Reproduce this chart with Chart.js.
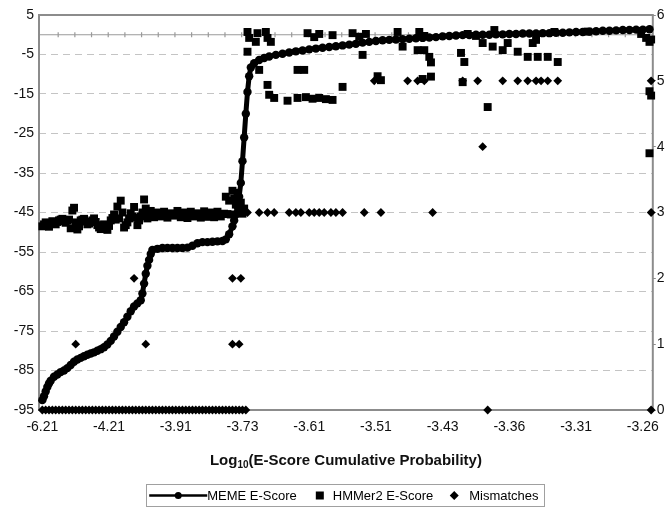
<!DOCTYPE html>
<html>
<head>
<meta charset="utf-8">
<script src="https://cdn.jsdelivr.net/npm/chart.js@4.4.1/dist/chart.umd.min.js"></script>
<style>
  html, body { margin: 0; padding: 0; background: #fff; }
  #wrap { width: 668px; height: 508px; }
</style>
</head>
<body>
<div id="wrap"><canvas id="myChart" width="668" height="508"></canvas></div>
<script>
// x = rank of the sequence when sorted by E-score cumulative probability
var tickRanks = [0, 40, 80, 120, 160, 200, 240, 280, 320, 360];
var tickLabels = ['-6.21', '-4.21', '-3.91', '-3.73', '-3.61', '-3.51', '-3.43', '-3.36', '-3.31', '-3.26'];
var scoreTicks = [5, -5, -15, -25, -35, -45, -55, -65, -75, -85, -95];
var mismatchTicks = [0, 1, 2, 3, 4, 5, 6];

var memeRank = [0, 1, 2, 3, 4, 5, 7, 9, 11, 13, 15, 17, 19, 21, 23, 25, 27, 29, 31, 33, 35, 37, 39, 41, 43, 45, 47, 49, 51, 53, 55, 57, 59, 60, 61, 62, 63, 64, 65, 66, 69, 72, 75, 78, 81, 84, 87, 90, 93, 96, 99, 102, 105, 108, 110, 112, 114, 115, 116, 117, 118, 119, 120, 121, 122, 123, 124, 125, 127, 130, 133, 136, 140, 144, 148, 152, 156, 160, 164, 168, 172, 176, 180, 184, 188, 192, 196, 200, 204, 208, 212, 216, 220, 224, 228, 232, 236, 240, 244, 248, 252, 256, 260, 264, 268, 272, 276, 280, 284, 288, 292, 296, 300, 304, 308, 312, 316, 320, 324, 328, 332, 336, 340, 344, 348, 352, 356, 360, 364];
var memeScore = [-92.5, -91.5, -90.3, -89.2, -88.3, -87.6, -86.6, -86, -85.4, -85, -84.4, -83.6, -82.8, -82.2, -81.8, -81.4, -81, -80.7, -80.4, -80, -79.6, -79.1, -78.4, -77.5, -76.4, -75.2, -74, -72.8, -71.4, -70, -68.8, -68, -67.2, -65.5, -63, -60.5, -58.5, -57, -55.5, -54.5, -54.2, -54, -54, -54, -54, -54, -53.9, -53.4, -52.8, -52.5, -52.5, -52.4, -52.3, -52.2, -51.8, -50.5, -48.5, -47, -45.5, -43.5, -41, -37.5, -32, -26, -20, -14.5, -10.5, -8.3, -7.2, -6.4, -5.9, -5.5, -5.1, -4.8, -4.5, -4.2, -4, -3.7, -3.5, -3.3, -3.1, -2.9, -2.7, -2.5, -2.3, -2, -1.8, -1.6, -1.4, -1.3, -1.2, -1.1, -1, -0.9, -0.8, -0.7, -0.6, -0.4, -0.3, -0.2, -0.1, -0.1, 0, 0, 0, 0.1, 0.1, 0.2, 0.2, 0.3, 0.3, 0.3, 0.4, 0.4, 0.5, 0.5, 0.6, 0.7, 0.7, 0.8, 0.9, 1, 1, 1.1, 1.2, 1.2, 1.3, 1.3, 1.4];

var hmmRank = [0, 1, 2, 3, 4, 5, 6, 7, 8, 9, 10, 11, 12, 13, 14, 15, 16, 17, 18, 19, 20, 21, 22, 23, 24, 25, 26, 27, 28, 29, 30, 31, 32, 33, 34, 35, 36, 37, 38, 39, 40, 41, 42, 43, 44, 45, 46, 47, 48, 49, 50, 51, 52, 53, 54, 55, 56, 57, 58, 59, 60, 61, 62, 63, 64,
  65, 67, 69, 71, 73, 75, 77, 79, 81, 83, 85, 87, 89, 91, 93, 95, 97, 99, 101, 103, 105, 107, 109, 110, 111, 112, 113, 114, 115, 116, 117, 118, 119, 120, 121,
  123, 123, 124, 128, 129, 130, 134, 135, 135, 136, 137, 139, 147, 153, 153, 157, 158, 159, 162, 163, 166, 166, 170, 174, 174, 180, 186, 190, 192, 194, 201, 203, 213, 216, 225, 226, 228, 229, 229, 232, 233, 233, 251, 252, 253, 255, 260, 264, 267, 270, 271, 276, 279, 285, 291, 294, 296, 297, 303, 307, 309, 327, 359, 362, 364, 365, 364, 365, 364];
var hmmScore = [-48.5, -48, -47.5, -48.2, -48.6, -47.8, -47.2, -47.6, -48, -47.4, -47, -46.8, -46.6, -47.2, -47.6, -47, -46.8, -49, -44.5, -43.8, -47.5, -49.3, -48.5, -47, -46.8, -46.6, -47.3, -48, -47.8, -47.4, -47, -46.5, -47.4, -48.2, -48.8, -49.2, -48.6, -48, -48.7, -49.4, -48.4, -47, -46.4, -45.5, -46.8, -43.5, -46.5, -42, -45, -48.8, -48.2, -47.5, -46.5, -45.2, -46, -43.6, -46.3, -48.2, -47, -46, -45, -41.7, -44, -46.5, -45.5,
  -44.6, -46.2, -45, -46, -44.8, -46.3, -45.2, -45.8, -44.6, -46.2, -45, -46.4, -44.8, -46, -45.2, -46.3, -44.7, -46.1, -45, -46.2, -44.8, -46, -45.3, -41, -45.4, -42, -45.5, -39.5, -41.5, -43, -40, -45, -42.5, -45.3, -44,
  0.7, -4.3, -0.8, -1.8, 0.4, -8.9, 0.7, -0.8, -12.7, -15.2, -1.8, -16, -16.7, -16, -8.9, -8.9, -15.8, 0.4, -16.2, -0.6, 0.2, -16, -16.3, -0.1, -16.5, -13.2, 0.4, -0.5, -5.1, 0.2, -10.5, -11.5, 0.7, -3, -3.9, 0.7, -11.2, -3.9, -0.3, -5.6, -10.6, -7, -4.6, -12, -6.9, 0.2, -0.3, -2.1, -18.3, -3, 1.2, -3.9, -2.1, -4.3, -5.6, -2.1, -1.3, -5.6, -5.6, 0.7, -6.9, 0.8, 0.2, -0.8, -1.8, -1.2, -14.3, -15.4, -30];

var misRank = [0, 2, 4, 6, 8, 10, 12, 14, 16, 18, 20, 22, 24, 26, 28, 30, 32, 34, 36, 38, 40, 42, 44, 46, 48, 50, 52, 54, 56, 58, 60, 62, 64, 66, 68, 70, 72, 74, 76, 78, 80, 82, 84, 86, 88, 90, 92, 94, 96, 98, 100, 102, 104, 106, 108, 110, 112, 114, 116, 118, 120, 122,
  20, 55, 62, 114, 118, 114, 119, 123, 130, 135, 139, 148, 152, 155, 160, 163, 166, 169, 173, 176, 180, 193, 203, 234, 199, 219, 225, 229, 252, 261, 264, 267, 276, 285, 291, 296, 299, 303, 309, 365, 365, 365];
var misCount = [0, 0, 0, 0, 0, 0, 0, 0, 0, 0, 0, 0, 0, 0, 0, 0, 0, 0, 0, 0, 0, 0, 0, 0, 0, 0, 0, 0, 0, 0, 0, 0, 0, 0, 0, 0, 0, 0, 0, 0, 0, 0, 0, 0, 0, 0, 0, 0, 0, 0, 0, 0, 0, 0, 0, 0, 0, 0, 0, 0, 0, 0,
  1, 2, 1, 1, 1, 2, 2, 3, 3, 3, 3, 3, 3, 3, 3, 3, 3, 3, 3, 3, 3, 3, 3, 3, 5, 5, 5, 5, 5, 5, 4, 0, 5, 5, 5, 5, 5, 5, 5, 5, 3, 0];

function pairs(xs, ys) {
	return xs.map(function(v, i) { return { x: v, y: ys[i] }; });
}

var FONT = '"Liberation Sans", Arial, sans-serif';

var decor = {
	id: 'decor',
	beforeDatasetsDraw: function(chart) {
		var ctx = chart.ctx, a = chart.chartArea;
		var sx = chart.scales.x, sy = chart.scales.y;
		ctx.save();
		// zero line with the category tick marks
		var y0 = sy.getPixelForValue(0);
		ctx.strokeStyle = '#9a9a9a';
		ctx.lineWidth = 1.2;
		ctx.beginPath();
		ctx.moveTo(a.left, y0);
		ctx.lineTo(a.right, y0);
		for (var r = 9.5; r < sx.max; r += 10) {
			var px = sx.getPixelForValue(r);
			ctx.moveTo(px, y0 - 2.5);
			ctx.lineTo(px, y0 + 2.5);
		}
		ctx.stroke();
		// plot frame
		ctx.strokeStyle = '#8c8c8c';
		ctx.lineWidth = 2;
		ctx.strokeRect(a.left, a.top, a.right - a.left, a.bottom - a.top);
		ctx.restore();
	},
	afterDraw: function(chart) {
		var ctx = chart.ctx, a = chart.chartArea;
		var cx = (a.left + a.right) / 2;
		ctx.save();
		ctx.fillStyle = '#111';
		ctx.textBaseline = 'alphabetic';

		// axis title with subscript
		var big = 'bold 15px ' + FONT, small = 'bold 10px ' + FONT;
		var t1 = 'Log', t2 = '10', t3 = '(E-Score Cumulative Probability)';
		ctx.font = big;
		var w1 = ctx.measureText(t1).width, w3 = ctx.measureText(t3).width;
		ctx.font = small;
		var w2 = ctx.measureText(t2).width;
		var tx = cx - (w1 + w2 + w3) / 2, ty = 465;
		ctx.font = big;
		ctx.fillText(t1, tx, ty);
		ctx.font = small;
		ctx.fillText(t2, tx + w1, ty + 3);
		ctx.font = big;
		ctx.fillText(t3, tx + w1 + w2, ty);

		// legend
		ctx.font = '13px ' + FONT;
		var names = ['MEME E-Score', 'HMMer2 E-Score', 'Mismatches'];
		var nw = names.map(function(n) { return ctx.measureText(n).width; });
		var total = 58 + nw[0] + 19 + 8 + 9 + nw[1] + 17 + 8 + 11 + nw[2] + 4;
		var lx = cx - total / 2, ly = 495.5;
		ctx.strokeStyle = '#a0a0a0';
		ctx.lineWidth = 1;
		ctx.strokeRect(Math.round(lx) - 2.5, 484.5, Math.round(total) + 5, 22);
		ctx.textBaseline = 'middle';
		var x = lx;
		ctx.strokeStyle = '#000';
		ctx.fillStyle = '#000';
		ctx.lineWidth = 2.5;
		ctx.beginPath(); ctx.moveTo(x, ly); ctx.lineTo(x + 58, ly); ctx.stroke();
		ctx.beginPath(); ctx.arc(x + 29, ly, 3.5, 0, Math.PI * 2); ctx.fill();
		x += 58;
		ctx.fillText(names[0], x, ly + 1);
		x += nw[0] + 19;
		ctx.fillRect(x, ly - 4, 8, 8);
		x += 8 + 9;
		ctx.fillText(names[1], x, ly + 1);
		x += nw[1] + 17;
		ctx.beginPath();
		ctx.moveTo(x + 4, ly - 4.5); ctx.lineTo(x + 8.5, ly); ctx.lineTo(x + 4, ly + 4.5); ctx.lineTo(x - 0.5, ly);
		ctx.closePath(); ctx.fill();
		x += 8 + 11;
		ctx.fillText(names[2], x, ly + 1);
		ctx.restore();
	}
};

var ctx = document.getElementById('myChart').getContext('2d');

var myChart = new Chart(ctx, {
	type: 'scatter',
	data: {
		datasets: [{
			label: 'MEME E-Score',
			data: pairs(memeRank, memeScore),
			showLine: true,
			clip: false,
			borderColor: '#000',
			backgroundColor: '#000',
			borderWidth: 5,
			pointStyle: 'circle',
			pointRadius: 4.2,
			pointBorderWidth: 0,
			yAxisID: 'y'
		}, {
			label: 'HMMer2 E-Score',
			data: pairs(hmmRank, hmmScore),
			clip: false,
			borderColor: '#000',
			backgroundColor: '#000',
			pointStyle: 'rect',
			pointRadius: 5.6,
			pointBorderWidth: 0,
			yAxisID: 'y'
		}, {
			label: 'Mismatches',
			data: pairs(misRank, misCount),
			clip: false,
			borderColor: '#000',
			backgroundColor: '#000',
			pointStyle: 'rectRot',
			pointRadius: 4.4,
			pointBorderWidth: 0,
			yAxisID: 'y2'
		}]
	},
	options: {
		responsive: false,
		animation: false,
		layout: { padding: { top: 15, left: 0, right: 0, bottom: 0 } },
		plugins: {
			legend: { display: false },
			tooltip: { enabled: false }
		},
		scales: {
			x: {
				type: 'linear',
				min: -2,
				max: 366,
				afterBuildTicks: function(scale) {
					scale.ticks = tickRanks.map(function(v) { return { value: v }; });
				},
				afterFit: function(scale) { scale.height = 98; },
				grid: { display: false, drawTicks: false },
				border: { display: false },
				ticks: {
					autoSkip: false,
					maxRotation: 0,
					padding: 9,
					color: '#111',
					font: { family: FONT, size: 14 },
					callback: function(value) {
						var k = tickRanks.indexOf(value);
						return k < 0 ? '' : tickLabels[k];
					}
				}
			},
			y: {
				position: 'left',
				min: -95,
				max: 5,
				afterBuildTicks: function(scale) {
					scale.ticks = scoreTicks.map(function(v) { return { value: v }; });
				},
				afterFit: function(scale) { scale.width = 39; },
				grid: { color: '#c4c4c4', lineWidth: 1, drawTicks: false },
				border: { display: false, dash: [7, 5] },
				ticks: {
					padding: 5,
					color: '#111',
					font: { family: FONT, size: 14 }
				}
			},
			y2: {
				position: 'right',
				min: 0,
				max: 6,
				afterBuildTicks: function(scale) {
					scale.ticks = mismatchTicks.map(function(v) { return { value: v }; });
				},
				afterFit: function(scale) { scale.width = 15; },
				grid: { drawOnChartArea: false, drawTicks: true, tickLength: 3, color: '#8c8c8c' },
				border: { display: false },
				ticks: {
					padding: 1,
					color: '#111',
					font: { family: FONT, size: 14 }
				}
			}
		}
	},
	plugins: [decor]
});
</script>
</body>
</html>
